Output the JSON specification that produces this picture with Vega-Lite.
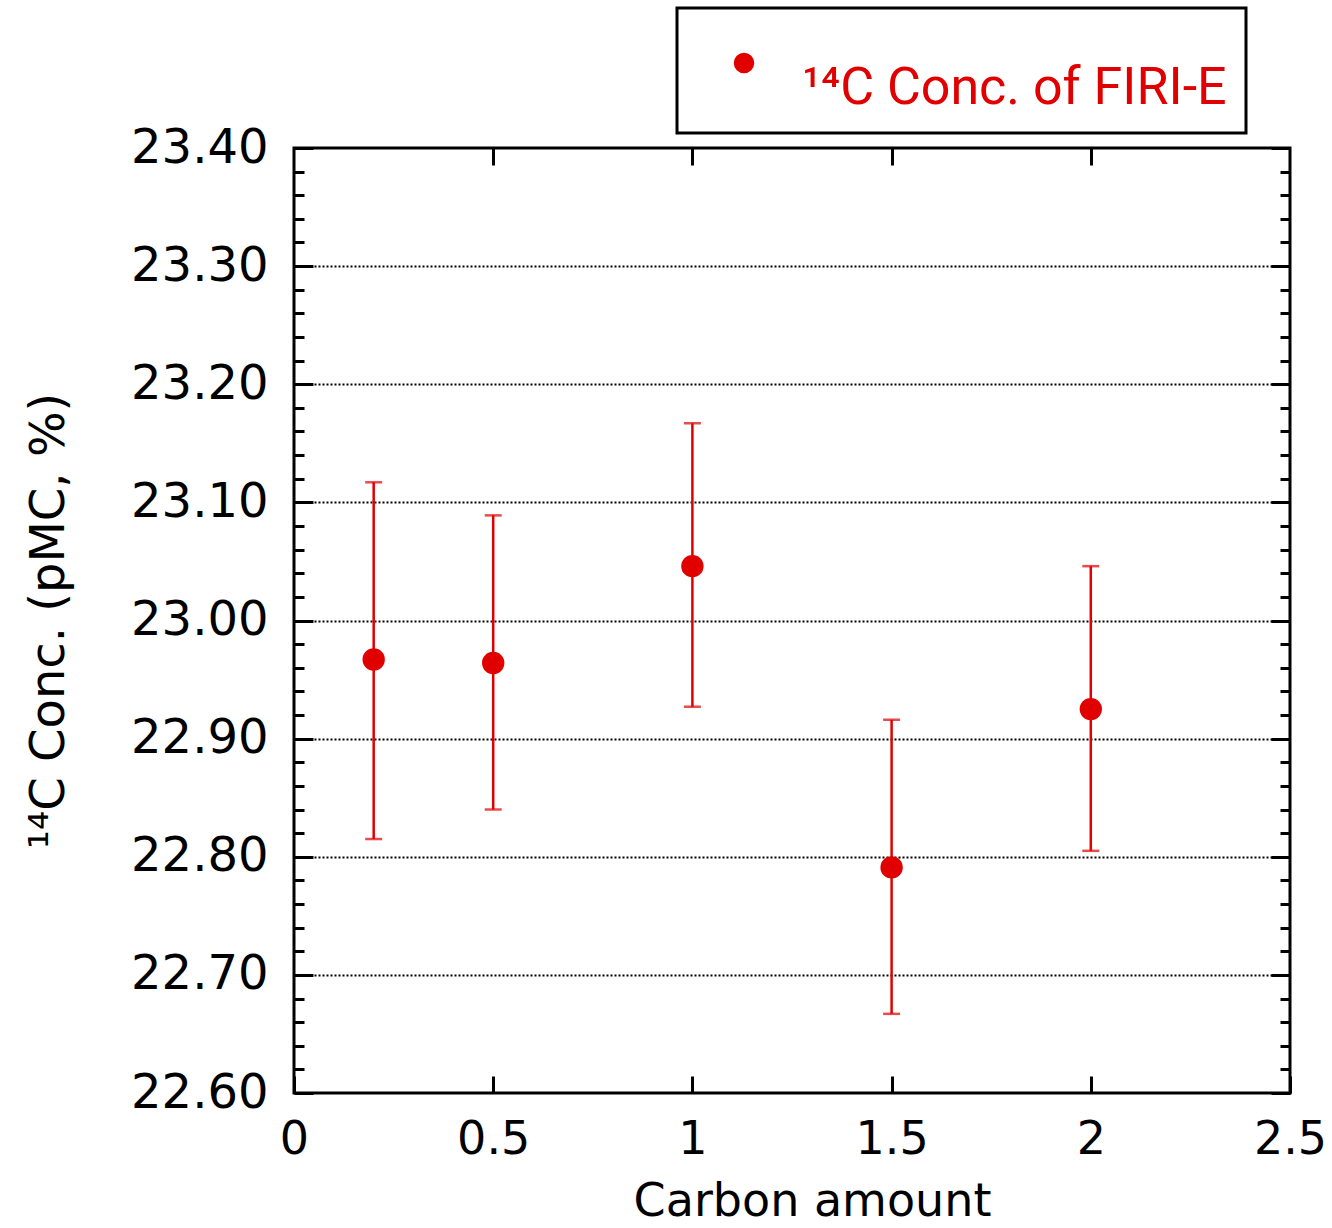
{
  "$schema": "https://vega.github.io/schema/vega-lite/v6.json",
  "width": 996,
  "height": 945,
  "autosize": {"type": "none"},
  "padding": {"left": 294, "top": 148, "right": 42, "bottom": 135},
  "background": "white",
  "config": {
    "view": {"stroke": "black", "strokeWidth": 3},
    "font": "DejaVu Sans",
    "legend": {"strokeWidth": 3}
  },
  "data": {
    "values": [
      {"c": 0.2, "v": 22.967, "lo": 22.815, "hi": 23.117, "s": "¹⁴C Conc. of FIRI-E"},
      {"c": 0.5, "v": 22.964, "lo": 22.840, "hi": 23.089, "s": "¹⁴C Conc. of FIRI-E"},
      {"c": 1.0, "v": 23.046, "lo": 22.927, "hi": 23.167, "s": "¹⁴C Conc. of FIRI-E"},
      {"c": 1.5, "v": 22.791, "lo": 22.667, "hi": 22.916, "s": "¹⁴C Conc. of FIRI-E"},
      {"c": 2.0, "v": 22.925, "lo": 22.805, "hi": 23.046, "s": "¹⁴C Conc. of FIRI-E"}
    ]
  },
  "resolve": {"axis": {"x": "independent", "y": "independent"}},
  "layer": [
    {
      "mark": {"type": "rule", "color": "#E00000", "strokeWidth": 2.5},
      "encoding": {
        "x": {
          "field": "c", "type": "quantitative",
          "scale": {"domain": [0, 2.5], "nice": false, "zero": false},
          "axis": {
            "orient": "bottom",
            "values": [0, 0.5, 1, 1.5, 2, 2.5],
            "labelExpr": "'' + datum.value",
            "tickSize": -17, "tickWidth": 3, "tickColor": "black",
            "domain": false, "grid": false,
            "labelFontSize": 46, "labelColor": "black", "labelPadding": 41, "labelFlush": false,
            "title": "Carbon amount", "titleFontSize": 46, "titleFontWeight": "normal", "titleColor": "black", "titlePadding": 17,
            "titleX": 518
          }
        },
        "y": {
          "field": "lo", "type": "quantitative",
          "scale": {"domain": [22.6, 23.4], "nice": false, "zero": false},
          "axis": {
            "orient": "left",
            "values": [22.6, 22.62, 22.64, 22.66, 22.68, 22.7, 22.72, 22.74, 22.76, 22.78, 22.8, 22.82, 22.84, 22.86, 22.88, 22.9, 22.92, 22.94, 22.96, 22.98, 23.0, 23.02, 23.04, 23.06, 23.08, 23.1, 23.12, 23.14, 23.16, 23.18, 23.2, 23.22, 23.24, 23.26, 23.28, 23.3, 23.32, 23.34, 23.36, 23.38, 23.4],
            "labelExpr": "abs(datum.value*10 - round(datum.value*10)) < 0.001 ? format(datum.value, '.2f') : ''",
            "tickSize": {"condition": {"test": "abs(datum.value*10 - round(datum.value*10)) < 0.001", "value": -19}, "value": -10},
            "tickWidth": 3, "tickColor": "black",
            "domain": false,
            "grid": true, "gridColor": "black", "gridDash": [2, 2], "gridWidth": 2,
            "gridOpacity": {"condition": {"test": "abs(datum.value*10 - round(datum.value*10)) < 0.001 && datum.value > 22.61 && datum.value < 23.39", "value": 1}, "value": 0},
            "labelFontSize": 48, "labelColor": "black", "labelPadding": 45, "labelFlush": false,
            "title": "¹⁴C Conc. (pMC, %)", "titleFontSize": 48, "titleFontWeight": "normal", "titleColor": "black", "titlePadding": 57
          }
        },
        "y2": {"field": "hi"}
      }
    },
    {
      "mark": {"type": "tick", "orient": "horizontal", "color": "#E00000", "size": 17, "thickness": 2.5},
      "encoding": {
        "x": {
          "field": "c", "type": "quantitative",
          "scale": {"domain": [0, 2.5], "nice": false, "zero": false},
          "axis": {
            "orient": "top", "values": [0.5, 1, 1.5, 2],
            "tickSize": -17, "tickWidth": 3, "tickColor": "black",
            "labels": false, "domain": false, "grid": false, "title": null
          }
        },
        "y": {
          "field": "lo", "type": "quantitative",
          "scale": {"domain": [22.6, 23.4], "nice": false, "zero": false},
          "axis": {
            "orient": "right",
            "values": [22.6, 22.62, 22.64, 22.66, 22.68, 22.7, 22.72, 22.74, 22.76, 22.78, 22.8, 22.82, 22.84, 22.86, 22.88, 22.9, 22.92, 22.94, 22.96, 22.98, 23.0, 23.02, 23.04, 23.06, 23.08, 23.1, 23.12, 23.14, 23.16, 23.18, 23.2, 23.22, 23.24, 23.26, 23.28, 23.3, 23.32, 23.34, 23.36, 23.38, 23.4],
            "tickSize": {"condition": {"test": "abs(datum.value*10 - round(datum.value*10)) < 0.001", "value": -19}, "value": -10},
            "tickWidth": 3, "tickColor": "black",
            "labels": false, "domain": false, "grid": false, "title": null
          }
        }
      }
    },
    {
      "mark": {"type": "tick", "orient": "horizontal", "color": "#E00000", "size": 17, "thickness": 2.5},
      "encoding": {
        "x": {"field": "c", "type": "quantitative", "scale": {"domain": [0, 2.5], "nice": false, "zero": false}, "axis": null},
        "y": {"field": "hi", "type": "quantitative", "scale": {"domain": [22.6, 23.4], "nice": false, "zero": false}, "axis": null}
      }
    },
    {
      "mark": {"type": "circle", "size": 500, "opacity": 1},
      "encoding": {
        "x": {"field": "c", "type": "quantitative", "scale": {"domain": [0, 2.5], "nice": false, "zero": false}, "axis": null},
        "y": {"field": "v", "type": "quantitative", "scale": {"domain": [22.6, 23.4], "nice": false, "zero": false}, "axis": null},
        "color": {
          "field": "s", "type": "nominal",
          "scale": {"range": ["#E00000"]},
          "legend": {
            "orient": "none", "legendX": 383, "legendY": -140,
            "title": null,
            "fillColor": "white", "strokeColor": "black",
            "padding": 19,
            "symbolType": "circle", "symbolSize": 420, "symbolOffset": 22, "symbolStrokeWidth": 0,
            "labelOffset": 32,
            "labelFont": "Roboto",
            "labelFontSize": 52, "labelColor": "#E00000", "labelLimit": 1000,
            "labelBaseline": "top",
            "clipHeight": 72
          }
        }
      }
    }
  ]
}
